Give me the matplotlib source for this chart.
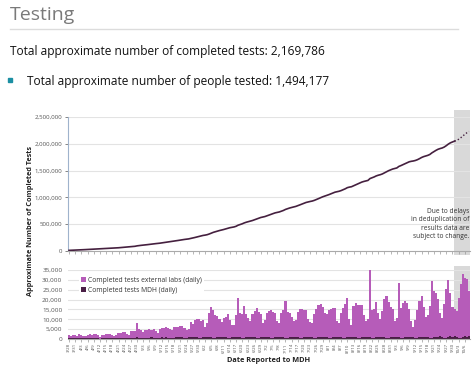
import numpy as np
import pandas as pd
import matplotlib
matplotlib.use("Agg")
import matplotlib.pyplot as plt
from matplotlib.patches import Rectangle

plt.rcParams['font.family'] = ['Open Sans', 'DejaVu Sans']

# daily completed tests, 3/28 onward
ext_daily = [1400, 1100, 1300, 1500, 1200, 1700, 1600, 1300, 1000, 1500, 1700, 1600, 2000, 1800,
             1400, 900, 1300, 1600, 1800, 1700, 1900, 1500, 1000, 1600, 2200,
             2600, 3000, 2800, 2300, 1800, 3200, 3500, 3400, 7200,
             4500, 4200, 3300, 4000, 3600, 4300, 4000, 4400, 3500, 2900, 4300, 4800,
             5000, 5200, 5100, 4700, 4400, 5300, 5500, 5400, 5800, 5600, 4800, 4200, 4500, 7500, 7000,
             8800, 9200, 9500, 8500, 9000, 5000, 7000, 12000, 15500, 14000, 11500, 11000,
             9000, 7500, 9500, 10500, 12000, 9000, 6500, 6000, 11000, 19500, 12500, 12000, 16500, 12000, 9500, 8000,
             11500, 13500, 15000, 13000, 11500, 7000, 8500, 12000, 13500, 14000, 13000, 12500, 8000, 7000,
             12000, 14000, 18500, 13000, 12000, 10000, 8000, 8500, 13000, 14500, 15000, 14000, 13500, 9000, 7500, 7000,
             12000, 14500, 16000, 16500, 15000, 12000, 11500, 14000, 14500, 15000, 14500, 8000, 7000,
             12000, 15000, 17000, 20000, 9000, 6000, 15500, 17000, 16500, 17000, 16000, 11000, 8000, 9000,
             34000, 14000, 14500, 18000, 12000, 9000, 13000, 19000, 21000, 18000, 15000, 14000, 8000, 9500, 27500,
             15000, 17500, 18000, 17000, 14000, 8000, 5000, 9000, 14000, 18000, 20500, 15000, 10000, 11000, 16000,
             29000, 23000, 22000, 19000, 12000, 9500, 17000, 25000, 28500, 22000, 15000,
             14000, 13000, 20000, 27000, 32000, 29500, 29000, 23000]

mdh_daily = [400, 300, 500, 600, 550, 600, 500, 350, 300, 550, 650, 600, 600, 550,
             400, 250, 500, 600, 650, 700, 600, 400, 300, 600, 700, 650, 700, 650,
             450, 350, 650, 700, 750, 800, 700, 450, 300, 700, 750, 700, 800, 750,
             500, 350, 700, 800, 750, 850, 700, 500, 400, 650, 800, 900, 850, 800,
             550, 400, 800, 900, 850, 950, 800, 500, 400, 850, 900, 1000, 950, 850,
             550, 450, 900, 1000, 950, 1000, 900, 600, 400, 850, 950, 1000, 1050, 900,
             550, 450, 900, 1100, 1000, 1000, 950, 600, 500, 950, 1000, 1100, 1050, 900,
             600, 450, 900, 1000, 1050, 1100, 950, 550, 500, 1000, 1100, 1000, 1050, 900,
             600, 450, 950, 1050, 1100, 1000, 950, 650, 500, 1000, 1100, 1050, 1100, 1000,
             600, 500, 950, 1050, 1100, 1150, 1000, 650, 550, 1000, 1100, 1150, 1100, 1050,
             600, 500, 1050, 1150, 1100, 1200, 1000, 650, 550, 1000, 1100, 1150, 1100, 1050,
             700, 550, 1100, 1200, 1150, 1250, 1100, 650, 600, 1050, 1150, 1200, 1200, 1100,
             700, 550, 1100, 1200, 1250, 1200, 1150, 700, 600, 1150, 1250, 1200, 1300, 1150,
             750, 600, 1200, 1300, 1250, 1300, 1200, 700, 650, 1200, 1300, 1250, 1300]

start_total = 10000
dates = pd.date_range('2020-03-28', periods=len(ext_daily))
date_labels = [f"{d.month}/{d.day}" for d in dates]
shade_from = 187  # last days subject to change

ext = np.array(ext_daily)
mdh = np.array(mdh_daily)
cum = start_total + np.cumsum(ext + mdh)
x = np.arange(len(ext))

W, H = 475, 368
fig = plt.figure(figsize=(W / 100, H / 100), dpi=100)

def box(l, t, r, b):
    return [l / W, 1 - b / H, (r - l) / W, (b - t) / H]

# header
fig.text(10 / W, 1 - 15 / H, "Testing", fontsize=14, color='#7a7a7a', va='center')
fig.add_artist(plt.Line2D([10 / W, 458 / W], [1 - 29 / H, 1 - 29 / H], color='#dcdcdc', lw=1))
fig.text(10 / W, 1 - 52 / H, "Total approximate number of completed tests: 2,169,786",
         fontsize=8.6, color='#111111', va='center')
fig.add_artist(Rectangle((8 / W, 1 - 82 / H), 4 / W, 4 / H, color='#1b8fa3', transform=fig.transFigure))
fig.text(27 / W, 1 - 82 / H, "Total approximate number of people tested: 1,494,177",
         fontsize=8.6, color='#111111', va='center')

grid_c = '#e3e3e3'
tick_c = '#555555'

# cumulative
ax1 = fig.add_axes(box(68, 117, 470, 251))
ax1.axvspan(shade_from - 0.5, len(x) - 0.5, ymin=-0.03, ymax=1.05, color='#d9d9d9', lw=0, clip_on=False, zorder=0)
ax1.plot(x[:shade_from + 1], cum[:shade_from + 1], color='#45203f', lw=1.2, zorder=3)
ax1.plot(x[shade_from:], cum[shade_from:], color='#45203f', lw=1.0, ls=(0, (1, 1.5)), zorder=3)
ax1.set_xlim(-0.5, len(x) - 0.5)
ax1.set_ylim(0, 2500000)
ax1.set_yticks(np.arange(0, 2500001, 500000))
ax1.set_yticklabels([f"{v:,}" for v in range(0, 2500001, 500000)])
ax1.set_xticks(x[::3])
ax1.set_xticklabels([])
ax1.tick_params(axis='x', length=2, width=0.5, color='#999999')
ax1.tick_params(axis='y', labelsize=4.4, colors=tick_c, length=2, width=0.5, pad=2)
ax1.grid(axis='y', color=grid_c, lw=0.8)
ax1.set_axisbelow(True)
for s in ['top', 'right']:
    ax1.spines[s].set_visible(False)
ax1.spines['left'].set_color('#9fb3cc')
ax1.spines['bottom'].set_color('#aaaaaa')
ax1.spines['left'].set_linewidth(0.8)
ax1.spines['bottom'].set_linewidth(0.8)
ax1.text(len(x) - 1, 2.0e5, "Due to delays\nin deduplication of\nresults data are\nsubject to change.",
         ha='right', va='bottom', fontsize=4.8, color='#333333', linespacing=1.3)

# daily bars
ax2 = fig.add_axes(box(68, 270, 470, 339))
ax2.axvspan(shade_from - 0.5, len(x) - 0.5, ymin=0, ymax=1.06, color='#d9d9d9', lw=0, clip_on=False, zorder=0)
ax2.bar(x, mdh, width=1.0, color='#4a1f46', lw=0, label='Completed tests MDH (daily)', zorder=2)
ax2.bar(x, ext, bottom=mdh, width=1.0, color='#b65cb9', lw=0, label='Completed tests external labs (daily)', zorder=2)
ax2.set_xlim(-0.5, len(x) - 0.5)
ax2.set_ylim(0, 35000)
ax2.set_yticks(np.arange(0, 35001, 5000))
ax2.set_yticklabels([f"{v:,}" for v in range(0, 35001, 5000)])
ax2.set_xticks(x[::3])
ax2.set_xticklabels(date_labels[::3], rotation=90, fontsize=3.2, color=tick_c)
ax2.tick_params(axis='x', length=2, width=0.5, color='#999999', pad=1)
ax2.tick_params(axis='y', labelsize=4.6, colors=tick_c, length=0, pad=4)
ax2.grid(axis='y', color=grid_c, lw=0.8)
ax2.set_axisbelow(True)
for s in ['top', 'right', 'left']:
    ax2.spines[s].set_visible(False)
ax2.spines['bottom'].set_color('#aaaaaa')
ax2.spines['bottom'].set_linewidth(0.8)
h, l = ax2.get_legend_handles_labels()
leg = ax2.legend(h[::-1], l[::-1], loc='upper left', bbox_to_anchor=(0.02, 0.97), fontsize=4.9,
                 frameon=True, framealpha=1, edgecolor='none', handlelength=0.7, handleheight=0.7,
                 handletextpad=0.4, labelspacing=0.45, borderpad=0.2, labelcolor='#333333')
ax2.set_xlabel("Date Reported to MDH", fontsize=5.3, fontweight='bold', color='#222222', labelpad=3)

fig.text(30 / W, 1 - 221 / H, "Approximate Number of Completed Tests", rotation=90, fontsize=5.2,
         fontweight='bold', color='#222222', ha='center', va='center')

fig.savefig("out.png", dpi=100)
